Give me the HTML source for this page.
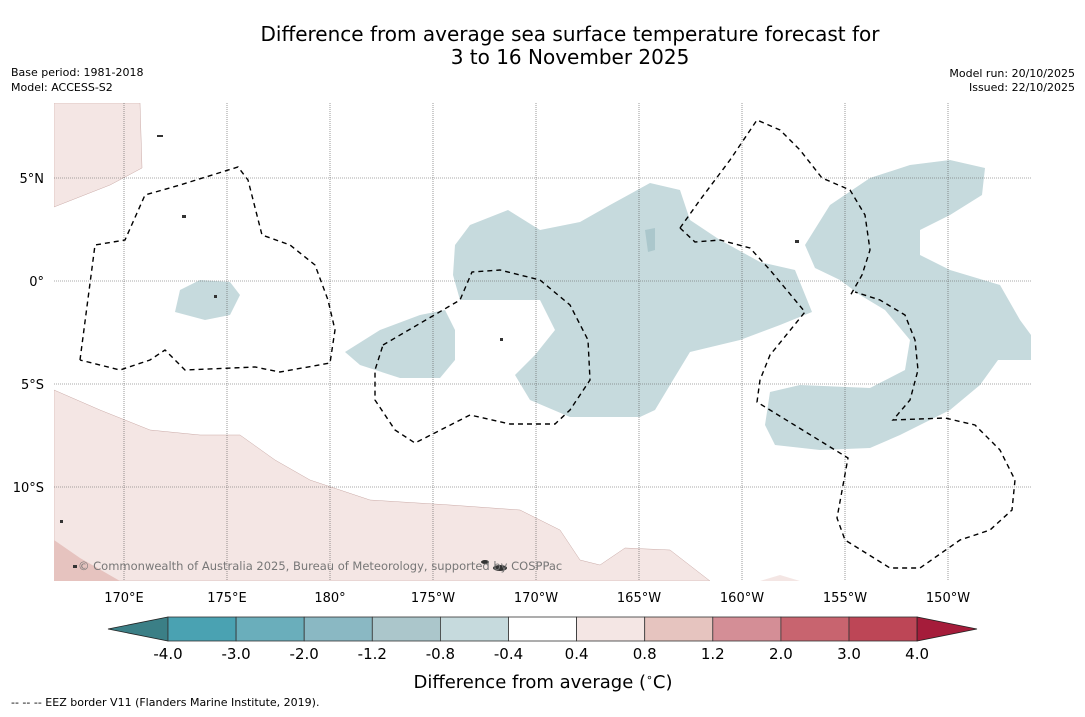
<!DOCTYPE html>
<html><head><meta charset="utf-8"><style>
body{margin:0;background:#fff;font-family:"DejaVu Sans","Liberation Sans",sans-serif;}
svg text{font-family:"DejaVu Sans","Liberation Sans",sans-serif;}
</style></head><body>
<svg width="1085" height="713" viewBox="0 0 1085 713">
<text x="570" y="41" font-size="20" text-anchor="middle">Difference from average sea surface temperature forecast for</text>
<text x="570" y="64" font-size="20" text-anchor="middle">3 to 16 November 2025</text>
<text x="11" y="76" font-size="11">Base period: 1981-2018</text>
<text x="11" y="91" font-size="11">Model: ACCESS-S2</text>
<text x="1075" y="77" font-size="11" text-anchor="end">Model run: 20/10/2025</text>
<text x="1075" y="91" font-size="11" text-anchor="end">Issued: 22/10/2025</text>
<g id="map">
<clipPath id="c"><rect x="54" y="103" width="977" height="478"/></clipPath>
<g clip-path="url(#c)">
<polygon fill="#f4e6e4" stroke="#c9a9a6" stroke-width="0.5" points="54,103 140,103 142,168 110,185 54,207"/>
<polygon fill="#f4e6e4" stroke="#c9a9a6" stroke-width="0.5" points="54,390 100,410 150,430 200,435 240,435 275,460 310,480 370,500 450,505 520,510 560,530 580,560 600,565 625,548 670,550 710,581 54,581"/>
<polygon fill="#e6c3bf" points="54,540 80,558 120,581 54,581"/>
<polygon fill="#f4e6e4" points="760,581 780,575 800,581"/>
<polygon fill="#c6dadd" points="455,245 470,225 508,210 540,230 580,222 610,205 650,183 680,190 690,220 720,240 760,262 795,270 812,312 780,325 740,340 690,352 670,385 655,410 640,417 570,417 530,400 515,375 535,355 555,330 540,300 460,300 453,275"/>
<polygon fill="#c6dadd" points="345,352 380,330 420,315 445,310 455,330 455,360 440,378 400,378 360,365"/>
<polygon fill="#c6dadd" points="180,290 200,280 230,282 240,295 230,315 205,320 175,312"/>
<polygon fill="#c6dadd" points="805,245 830,205 870,178 910,165 950,160 985,168 982,195 950,215 920,230 920,255 950,270 1000,285 1020,320 1031,335 1031,360 998,360 980,385 950,410 900,435 870,448 820,450 775,445 765,425 770,392 800,385 870,388 905,370 910,340 885,310 860,295 840,280 815,268"/>
<polygon fill="#abc7cc" points="645,230 655,228 655,250 648,252"/>
</g>
<g id="grid" stroke="#555" stroke-width="0.6" stroke-dasharray="1,1"></g>
<g fill="none" stroke="#000" stroke-width="1.4" stroke-dasharray="5,4">
<polyline points="80,360 95,245 125,240 145,195 180,185 238,167 248,180 262,235 290,245 315,265 328,300 335,330 330,363 280,372 255,367 185,370 165,350 150,360 120,370 80,360"/>
<polyline points="383,345 460,300 472,272 500,270 540,280 570,305 588,340 590,380 570,410 555,424 510,424 470,415 415,443 395,430 375,400 375,370 383,345"/>
<polyline points="680,228 700,200 730,160 757,120 780,130 800,150 822,178 850,190 865,215 870,250 862,275 850,296"/>
<polyline points="680,228 695,242 720,240 750,248 770,270 805,312 770,355 760,380 757,402 848,458 837,518 845,540 890,568 920,568 960,540 990,530 1012,510 1015,480 1000,450 975,425 945,418 893,420 910,400 918,370 915,340 905,315 880,300 855,292"/>
</g>
<g fill="#333">
<ellipse cx="500" cy="568" rx="7" ry="3"/><ellipse cx="485" cy="562" rx="4" ry="2"/><rect x="157" y="135" width="6" height="2"/><rect x="182" y="215" width="4" height="3"/><rect x="214" y="295" width="3" height="3"/><rect x="795" y="240" width="4" height="3"/><rect x="60" y="520" width="3" height="3"/><rect x="73" y="565" width="4" height="3"/><rect x="500" y="338" width="3" height="3"/>
</g>
<text x="78" y="570" font-size="11.5" fill="#777">© Commonwealth of Australia 2025, Bureau of Meteorology, supported by COSPPac</text>
<g id="ticks" font-size="13"></g>
</g>
<g id="cbar"></g>
<text x="543" y="688" font-size="18" text-anchor="middle">Difference from average (<tspan font-size="11" dy="-7">∘</tspan><tspan dy="7">C)</tspan></text>
<text x="11" y="706" font-size="11">-- -- -- EEZ border V11 (Flanders Marine Institute, 2019).</text>
</svg>
<script>
const lonLabels=["170°E","175°E","180°","175°W","170°W","165°W","160°W","155°W","150°W"];
const lonValues=[170,175,180,185,190,195,200,205,210];
const latLabels=["5°N","0°","5°S","10°S"];
const latValues=[5,0,-5,-10];
const binEdges=["-4.0","-3.0","-2.0","-1.2","-0.8","-0.4","0.4","0.8","1.2","2.0","3.0","4.0"];
const binColors=["#4aa2b2","#6aaebb","#8ab8c3","#abc6cb","#c6dadd","#ffffff","#f4e6e4","#e6c4bf","#d48e96","#c8646f","#bd4656"];
const NS="http://www.w3.org/2000/svg";
const xLon=l=>330+(l-180)*20.6;
const yLat=l=>281-l*20.6;
function mk(t,a,p){const e=document.createElementNS(NS,t);for(const k in a)e.setAttribute(k,a[k]);p.appendChild(e);return e;}
const grid=document.getElementById('grid'),ticks=document.getElementById('ticks');
lonValues.forEach((v,i)=>{
 const l=mk('line',{x1:xLon(v),x2:xLon(v),y1:103,y2:581},grid);
 
 
 const t=mk('text',{x:xLon(v),y:602,'text-anchor':'middle'},ticks);t.textContent=lonLabels[i];
 
 
});
latValues.forEach((v,i)=>{
 const l=mk('line',{x1:54,x2:1031,y1:yLat(v),y2:yLat(v)},grid);
 
 
 const t=mk('text',{x:44,y:yLat(v)+5,'text-anchor':'end'},ticks);t.textContent=latLabels[i];
 
 
});
const cb=document.getElementById('cbar');
const x0=168,w=68.1,y0=617,h=24;
const la=mk('polygon',{points:`${x0},${y0} ${x0},${y0+h} 108,${y0+h/2}`,fill:'#3b7f86',stroke:'#222','stroke-width':0.8},cb);


binColors.forEach((c,i)=>{
 const r=mk('rect',{x:x0+i*w,y:y0,width:w,height:h,fill:c,stroke:'#333','stroke-width':0.8},cb);
 
 
});
const xe=x0+binColors.length*w;
const ra=mk('polygon',{points:`${xe},${y0} ${xe},${y0+h} 977,${y0+h/2}`,fill:'#a51c3a',stroke:'#222','stroke-width':0.8},cb);


binEdges.forEach((b,i)=>{
 const t=mk('text',{x:x0+i*w,y:659,'text-anchor':'middle','font-size':15},cb);t.textContent=b;
 
 
});
</script>
</body></html>
